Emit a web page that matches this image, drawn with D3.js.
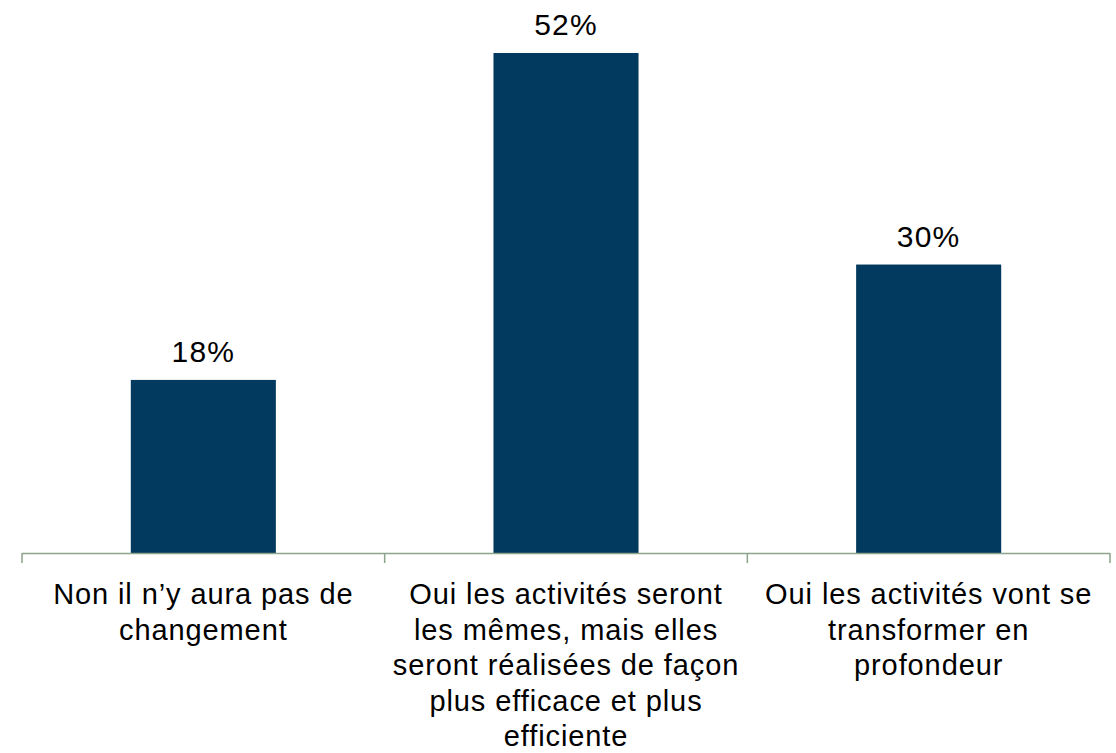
<!DOCTYPE html>
<html>
<head>
<meta charset="utf-8">
<script src="https://d3js.org/d3.v7.min.js"></script>
<style>
  body { margin: 0; background: #fff; }
  text { font-family: "Liberation Sans", Arial, sans-serif; fill: #000; }
</style>
</head>
<body>
<script>
// categories, line-broken as in the original chart
var categories = [
  ["Non il n\u2019y aura pas de", "changement"],
  ["Oui les activit\u00e9s seront", "les m\u00eames, mais elles", "seront r\u00e9alis\u00e9es de fa\u00e7on", "plus efficace et plus", "efficiente"],
  ["Oui les activit\u00e9s vont se", "transformer en", "profondeur"]
];
var values = [18, 52, 30];
var valueLabels = ["18%", "52%", "30%"];

var width = 1116, height = 753;

var svg = d3.select("body").append("svg")
    .attr("width", width)
    .attr("height", height);

var x = d3.scaleBand()
    .domain(d3.range(values.length))
    .range([22, 1110])
    .paddingInner(0.6)
    .paddingOuter(0.3);

var y = d3.scaleLinear()
    .domain([0, 52])
    .range([553, 53]);

svg.selectAll("rect.bar").data(values).enter().append("rect")
    .attr("class", "bar")
    .attr("x", function(d, i) { return x(i); })
    .attr("y", function(d) { return y(d); })
    .attr("width", x.bandwidth())
    .attr("height", function(d) { return y(0) - y(d); })
    .attr("fill", "#02395e");

svg.selectAll("text.val").data(values).enter().append("text")
    .attr("class", "val")
    .attr("x", function(d, i) { return x(i) + x.bandwidth() / 2; })
    .attr("y", function(d) { return y(d) - 18; })
    .attr("text-anchor", "middle")
    .style("font-size", "30px")
    .style("letter-spacing", "1.2px")
    .text(function(d, i) { return valueLabels[i]; });

// axis line with ticks between categories
var edges = d3.range(values.length + 1).map(function(i) { return 22 + i * (1088 / values.length); });
var axis = svg.append("g");
axis.append("line")
    .attr("x1", 22).attr("x2", 1110)
    .attr("y1", y(0) + 0.5).attr("y2", y(0) + 0.5)
    .attr("stroke", "#8ca38c").attr("stroke-width", 1.5);
axis.selectAll("line.tick").data(edges).enter().append("line")
    .attr("class", "tick")
    .attr("x1", function(d) { return d; }).attr("x2", function(d) { return d; })
    .attr("y1", y(0)).attr("y2", y(0) + 10)
    .attr("stroke", "#8ca38c").attr("stroke-width", 1.5);

var labels = svg.selectAll("text.cat").data(categories).enter().append("text")
    .attr("class", "cat")
    .attr("text-anchor", "middle")
    .style("font-size", "29px")
    .style("letter-spacing", "0.9px");
labels.selectAll("tspan").data(function(d, i) {
    return d.map(function(line) { return { line: line, i: i }; });
  }).enter().append("tspan")
    .attr("x", function(d) { return x(d.i) + x.bandwidth() / 2; })
    .attr("y", function(d, j) { return 604 + j * 35.5; })
    .text(function(d) { return d.line; });
</script>
</body>
</html>
